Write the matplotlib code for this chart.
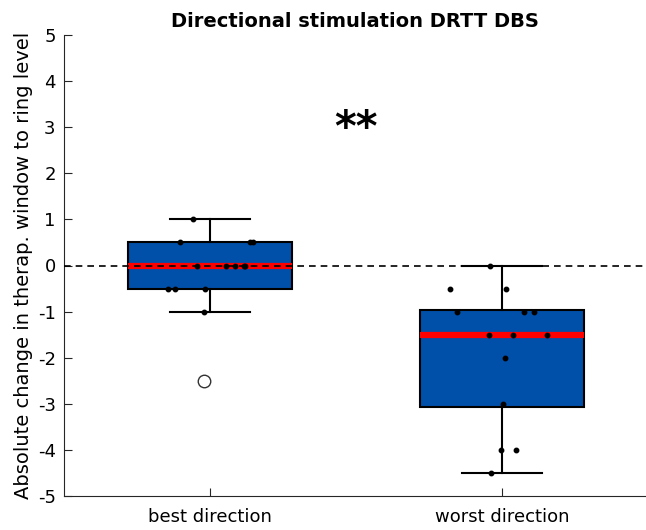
import matplotlib
matplotlib.use("Agg")
import matplotlib.pyplot as plt

plt.rcParams["axes.unicode_minus"] = False

categories = ["best direction", "worst direction"]
# box statistics
medians = [0.0, -1.5]
q1s = [-0.5, -3.08]
q3s = [0.5, -0.97]
whislo = [-1.0, -4.5]
whishi = [1.0, 0.0]
outlier_vals = [-2.5]
outlier_pos = [1]
outlier_jit = [-0.02]

# individual data points (value, horizontal jitter)
best_vals = [1.0, 0.5, 0.5, 0.5, 0.0, 0.0, 0.0, 0.0, 0.0, -0.5, -0.5, -0.5, -1.0]
best_jit = [-0.058, -0.103, 0.137, 0.147, -0.045, 0.055, 0.086, 0.116, 0.12, -0.144, -0.12, -0.017, -0.02]
worst_vals = [0.0, -0.5, -0.5, -1.0, -1.0, -1.0, -1.5, -1.5, -1.5, -2.0, -3.0, -4.0, -4.0, -4.5]
worst_jit = [-0.041, -0.178, 0.014, -0.154, 0.075, 0.11, -0.045, 0.038, 0.154, 0.01, 0.003, -0.003, 0.048, -0.038]

fig = plt.figure(figsize=(6.46, 5.30), dpi=100)
ax = fig.add_axes([64/646, 1-496/530, 582/646, (496-35)/530])

stats = []
for i in range(2):
    stats.append(dict(med=medians[i], q1=q1s[i], q3=q3s[i], whislo=whislo[i],
                      whishi=whishi[i], fliers=[], label=categories[i]))

ax.bxp(stats, positions=[1, 2], widths=0.565, patch_artist=True,
       boxprops=dict(facecolor="#0050AA", edgecolor="black", linewidth=1.5),
       medianprops=dict(color="#FF0000", linewidth=4.5, solid_capstyle="butt"),
       whiskerprops=dict(color="black", linewidth=1.5),
       capprops=dict(color="black", linewidth=1.5),
       capwidths=0.275, showfliers=False,
       zorder=2)

ax.plot([p + j for p, j in zip(outlier_pos, outlier_jit)], outlier_vals, "o",
        markerfacecolor="white", markeredgecolor="#333333", markersize=9,
        markeredgewidth=1.0, linestyle="none", zorder=4)

ax.axhline(0, color="black", linestyle=(0, (4, 3)), linewidth=1.2, zorder=3)

for pos, vals, jit in [(1, best_vals, best_jit), (2, worst_vals, worst_jit)]:
    ax.plot([pos + j for j in jit], vals, "o", color="black", markersize=3.2,
            linestyle="none", zorder=4)

ax.set_xlim(0.5, 0.5 + 582/292)
ax.set_ylim(-5, 5)
ax.set_yticks(range(-5, 6))
ax.set_xticks([1, 2])
ax.set_xticklabels(categories)
ax.tick_params(direction="in", labelsize=13, length=6, color="#262626", width=0.8)
ax.tick_params(axis="x", pad=9)
ax.tick_params(axis="y", pad=6)
for s in ["top", "right"]:
    ax.spines[s].set_visible(False)
for s in ["left", "bottom"]:
    ax.spines[s].set_color("#262626")
    ax.spines[s].set_linewidth(0.8)

ax.set_ylabel("Absolute change in therap. window to ring level", fontsize=14, labelpad=3)
ax.set_title("Directional stimulation DRTT DBS", fontsize=14, fontweight="bold", pad=6)
ax.text(1.5, 2.97, "**", fontsize=30, fontweight="bold", ha="center", va="center")

fig.savefig("out.png", dpi=100)
